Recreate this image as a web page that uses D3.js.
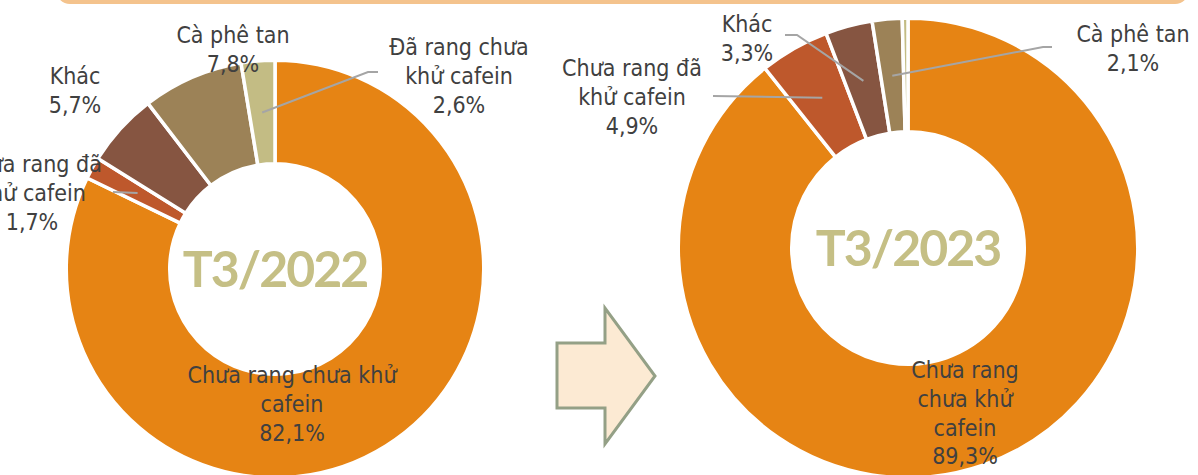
<!DOCTYPE html>
<html>
<head>
<meta charset="utf-8">
<script src="https://cdn.jsdelivr.net/npm/d3@7"></script>
<style>
  html, body { margin: 0; padding: 0; background: #fff; }
  svg { display: block; }
  .lbl { font-family: "DejaVu Sans Condensed", "DejaVu Sans", sans-serif; font-stretch: condensed; font-size: 23px; fill: #404040; }
  .period { font-family: Lato, "Open Sans", sans-serif; font-weight: 700; font-size: 50px; letter-spacing: -2px; fill: #C5BF85; }
</style>
</head>
<body>
<svg id="chart" width="1198" height="475"></svg>
<script>
// Coffee export structure by product type (share of value, %)
const categories = [
  "Chưa rang chưa khử cafein",
  "Chưa rang đã khử cafein",
  "Khác",
  "Cà phê tan",
  "Đã rang chưa khử cafein"
];
const periods = ["T3/2022", "T3/2023"];
const values2022 = [82.1, 1.7, 5.7, 7.8, 2.6];
const values2023 = [89.3, 4.9, 3.3, 2.1, 0.4];
const colors = ["#E68414", "#BE582C", "#865541", "#9C8257", "#C3BC84"];

// Layout of each donut and its data labels
const donuts = [
  {
    period: periods[0], values: values2022,
    cx: 275, cy: 269, outer: 207, inner: 107,
    labels: [
      { i: 0, x: 292, y: 383, wrap: 230 },
      { i: 1, x: 32,  y: 172, wrap: 160, leader: [[113, 192]] },
      { i: 2, x: 75,  y: 84,  wrap: 160 },
      { i: 3, x: 233, y: 43,  wrap: 160 },
      { i: 4, x: 459, y: 55,  wrap: 160, leader: [[378, 72], [368, 72]] }
    ]
  },
  {
    period: periods[1], values: values2023,
    cx: 908, cy: 248, outer: 228, inner: 118,
    labels: [
      { i: 0, x: 965,  y: 378, wrap: 130 },
      { i: 1, x: 632,  y: 76,  wrap: 160, leader: [[713, 96]] },
      { i: 2, x: 747,  y: 32,  wrap: 160, leader: [[785, 35], [797, 35]] },
      { i: 3, x: 1133, y: 42,  wrap: 160, leader: [[1052, 47], [1043, 47]] }
    ]
  }
];

const lineHeight = 28.8;
const fmt = v => d3.format(".1f")(v).replace(".", ",") + "%";
const svg = d3.select("#chart");

// frame edge along the top
svg.append("rect")
  .attr("x", 58).attr("y", -40)
  .attr("width", 1129).attr("height", 42)
  .attr("rx", 12)
  .attr("fill", "none")
  .attr("stroke", "#F4C38D")
  .attr("stroke-width", 4);

// arrow between the two periods
const arrowShape = [[0, -33], [48, -33], [48, -68], [98, 0], [48, 68], [48, 32], [0, 32]];
svg.append("polygon")
  .attr("points", arrowShape.map(p => [557 + p[0], 376 + p[1]].join(",")).join(" "))
  .attr("fill", "#FCEAD3")
  .attr("stroke", "#94A086")
  .attr("stroke-width", 3)
  .attr("stroke-linejoin", "miter");

const pie = d3.pie().sort(null).value(d => d);
const measurer = svg.append("text").attr("class", "lbl").attr("visibility", "hidden");
function wrapWords(text, width) {
  const words = text.split(" ");
  const lines = [];
  let cur = "";
  words.forEach(w => {
    const test = cur ? cur + " " + w : w;
    measurer.text(test);
    if (cur && measurer.node().getComputedTextLength() > width) {
      lines.push(cur);
      cur = w;
    } else {
      cur = test;
    }
  });
  if (cur) lines.push(cur);
  return lines;
}

donuts.forEach(d => {
  const g = svg.append("g").attr("transform", `translate(${d.cx},${d.cy})`);
  const arcs = pie(d.values);
  const arc = d3.arc().innerRadius(d.inner - 1.75).outerRadius(d.outer + 1.75);
  const mid = d3.arc().innerRadius(d.inner).outerRadius(d.outer);

  g.selectAll("path.slice")
    .data(arcs)
    .join("path")
    .attr("class", "slice")
    .attr("d", arc)
    .attr("fill", (a, i) => colors[i])
    .attr("stroke", "#fff")
    .attr("stroke-width", 3.5)
    .attr("stroke-linejoin", "round");

  // period title in the hole
  g.append("text")
    .attr("class", "period")
    .attr("x", 0).attr("y", 18)
    .attr("text-anchor", "middle")
    .text(d.period);

  // leader lines
  d.labels.filter(l => l.leader).forEach(l => {
    const c = mid.centroid(arcs[l.i]);
    const pts = l.leader.concat([[d.cx + c[0], d.cy + c[1]]]);
    svg.append("polyline")
      .attr("points", pts.map(p => p.join(",")).join(" "))
      .attr("fill", "none")
      .attr("stroke", "#A5A5A5")
      .attr("stroke-width", 2);
  });

  // data labels
  d.labels.forEach(l => {
    const lines = wrapWords(categories[l.i], l.wrap).concat([fmt(d.values[l.i])]);
    const t = svg.append("text")
      .attr("class", "lbl")
      .attr("text-anchor", "middle");
    lines.forEach((s, k) => {
      t.append("tspan").attr("x", l.x).attr("y", l.y + k * lineHeight).text(s);
    });
  });
});
measurer.remove();
</script>
</body>
</html>
